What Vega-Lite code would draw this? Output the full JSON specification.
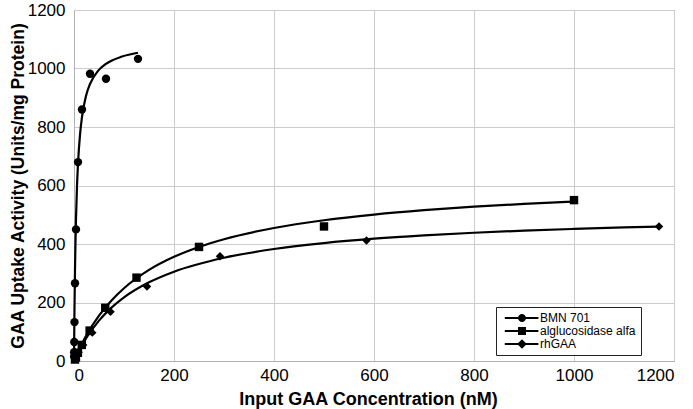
{
  "$schema": "https://vega.github.io/schema/vega-lite/v6.json",
  "width": 600,
  "height": 351,
  "autosize": "none",
  "padding": {"left": 74, "top": 10, "right": 19, "bottom": 48},
  "background": "white",
  "config": {
    "view": {"stroke": "#b0b0b0", "strokeWidth": 1},
    "font": "Liberation Sans",
    "axis": {
      "labelFont": "Liberation Sans",
      "labelFontSize": 17,
      "labelColor": "black",
      "titleFont": "Liberation Sans",
      "titleFontWeight": "bold",
      "titleColor": "black",
      "ticks": false,
      "tickSize": 0,
      "domainColor": "#b0b0b0",
      "gridColor": "#cccccc",
      "gridWidth": 1,
      "format": "d"
    }
  },
  "datasets": {
    "curves": [
      {"series": "BMN 701", "x": 0, "y": 0},
      {"series": "BMN 701", "x": 0.5, "y": 99.5},
      {"series": "BMN 701", "x": 1, "y": 182.5},
      {"series": "BMN 701", "x": 2, "y": 312.9},
      {"series": "BMN 701", "x": 3, "y": 410.6},
      {"series": "BMN 701", "x": 4, "y": 486.7},
      {"series": "BMN 701", "x": 6, "y": 597.3},
      {"series": "BMN 701", "x": 8, "y": 673.8},
      {"series": "BMN 701", "x": 12, "y": 772.9},
      {"series": "BMN 701", "x": 16, "y": 834.3},
      {"series": "BMN 701", "x": 24, "y": 906.2},
      {"series": "BMN 701", "x": 32, "y": 947},
      {"series": "BMN 701", "x": 48, "y": 991.7},
      {"series": "BMN 701", "x": 64, "y": 1015.7},
      {"series": "BMN 701", "x": 96, "y": 1040.8},
      {"series": "BMN 701", "x": 128, "y": 1053.8},
      {"series": "alglucosidase alfa", "x": 0, "y": 0},
      {"series": "alglucosidase alfa", "x": 10, "y": 38.6},
      {"series": "alglucosidase alfa", "x": 25, "y": 88.5},
      {"series": "alglucosidase alfa", "x": 50, "y": 155},
      {"series": "alglucosidase alfa", "x": 75, "y": 207},
      {"series": "alglucosidase alfa", "x": 100, "y": 248.7},
      {"series": "alglucosidase alfa", "x": 150, "y": 311.4},
      {"series": "alglucosidase alfa", "x": 200, "y": 356.3},
      {"series": "alglucosidase alfa", "x": 250, "y": 390},
      {"series": "alglucosidase alfa", "x": 300, "y": 416.4},
      {"series": "alglucosidase alfa", "x": 400, "y": 454.7},
      {"series": "alglucosidase alfa", "x": 500, "y": 481.2},
      {"series": "alglucosidase alfa", "x": 600, "y": 500.7},
      {"series": "alglucosidase alfa", "x": 700, "y": 515.7},
      {"series": "alglucosidase alfa", "x": 800, "y": 527.5},
      {"series": "alglucosidase alfa", "x": 900, "y": 537},
      {"series": "alglucosidase alfa", "x": 1000, "y": 545.1},
      {"series": "rhGAA", "x": 0, "y": 0},
      {"series": "rhGAA", "x": 10, "y": 35.1},
      {"series": "rhGAA", "x": 25, "y": 79.7},
      {"series": "rhGAA", "x": 50, "y": 137.9},
      {"series": "rhGAA", "x": 75, "y": 182.3},
      {"series": "rhGAA", "x": 100, "y": 217.4},
      {"series": "rhGAA", "x": 150, "y": 269},
      {"series": "rhGAA", "x": 200, "y": 305.4},
      {"series": "rhGAA", "x": 300, "y": 353},
      {"series": "rhGAA", "x": 400, "y": 382.8},
      {"series": "rhGAA", "x": 500, "y": 403.3},
      {"series": "rhGAA", "x": 600, "y": 418.2},
      {"series": "rhGAA", "x": 700, "y": 429.5},
      {"series": "rhGAA", "x": 800, "y": 438.5},
      {"series": "rhGAA", "x": 900, "y": 445.7},
      {"series": "rhGAA", "x": 1000, "y": 451.6},
      {"series": "rhGAA", "x": 1100, "y": 456.6},
      {"series": "rhGAA", "x": 1170, "y": 459.6}
    ],
    "points": [
      {"series": "BMN 701", "x": 0.125, "y": 15},
      {"series": "BMN 701", "x": 0.25, "y": 30},
      {"series": "BMN 701", "x": 0.5, "y": 65},
      {"series": "BMN 701", "x": 1, "y": 133},
      {"series": "BMN 701", "x": 2, "y": 266},
      {"series": "BMN 701", "x": 4, "y": 450},
      {"series": "BMN 701", "x": 8, "y": 680},
      {"series": "BMN 701", "x": 16, "y": 860},
      {"series": "BMN 701", "x": 32, "y": 982},
      {"series": "BMN 701", "x": 64, "y": 965},
      {"series": "BMN 701", "x": 128, "y": 1033},
      {"series": "alglucosidase alfa", "x": 1.95, "y": 5},
      {"series": "alglucosidase alfa", "x": 3.9, "y": 12},
      {"series": "alglucosidase alfa", "x": 7.8, "y": 28},
      {"series": "alglucosidase alfa", "x": 15.6, "y": 55},
      {"series": "alglucosidase alfa", "x": 31.25, "y": 104},
      {"series": "alglucosidase alfa", "x": 62.5, "y": 182},
      {"series": "alglucosidase alfa", "x": 125, "y": 285},
      {"series": "alglucosidase alfa", "x": 250, "y": 390},
      {"series": "alglucosidase alfa", "x": 500, "y": 460},
      {"series": "alglucosidase alfa", "x": 1000, "y": 550},
      {"series": "rhGAA", "x": 2.3, "y": 8},
      {"series": "rhGAA", "x": 4.6, "y": 15},
      {"series": "rhGAA", "x": 9.1, "y": 30},
      {"series": "rhGAA", "x": 18.3, "y": 55},
      {"series": "rhGAA", "x": 36.5, "y": 97},
      {"series": "rhGAA", "x": 73, "y": 168},
      {"series": "rhGAA", "x": 146, "y": 255},
      {"series": "rhGAA", "x": 292, "y": 358},
      {"series": "rhGAA", "x": 585, "y": 412},
      {"series": "rhGAA", "x": 1170, "y": 460}
    ]
  },
  "encoding": {
    "x": {
      "field": "x", "type": "quantitative",
      "scale": {"domain": [0, 1200], "nice": false, "zero": false},
      "axis": {"values": [0, 200, 400, 600, 800, 1000, 1200], "title": "Input GAA Concentration (nM)", "titleFontSize": 18, "labelPadding": 6, "titlePadding": 7, "titleX": 294, "grid": true}
    },
    "y": {
      "field": "y", "type": "quantitative",
      "scale": {"domain": [0, 1200], "nice": false, "zero": false},
      "axis": {"values": [0, 200, 400, 600, 800, 1000, 1200], "title": "GAA Uptake Activity (Units/mg Protein)", "titleFontSize": 17.5, "labelPadding": 9, "titlePadding": 0, "grid": true}
    }
  },
  "layer": [
    {
      "data": {"name": "curves"},
      "mark": {"type": "line", "interpolate": "monotone", "color": "black", "strokeWidth": 2.2},
      "encoding": {"detail": {"field": "series", "type": "nominal"}}
    },
    {
      "data": {"name": "points"},
      "mark": {"type": "point", "filled": true, "color": "black", "opacity": 1},
      "encoding": {
        "shape": {
          "field": "series", "type": "nominal",
          "scale": {"domain": ["BMN 701", "alglucosidase alfa", "rhGAA"], "range": ["circle", "square", "diamond"]},
          "legend": null
        },
        "size": {
          "field": "series", "type": "nominal",
          "scale": {"domain": ["BMN 701", "alglucosidase alfa", "rhGAA"], "range": [70, 72, 120]},
          "legend": null
        }
      }
    },
    {
      "data": {"name": "points"},
      "mark": {"type": "point", "filled": true, "color": "black", "opacity": 0, "size": 64},
      "encoding": {
        "shape": {
          "field": "series", "type": "nominal",
          "scale": {
            "domain": ["BMN 701", "alglucosidase alfa", "rhGAA"],
            "range": [
              "M-4.3,-0.25H4.1V0.25H-4.3Z M1,0A1,1 0 1,1 -1,0A1,1 0 1,1 1,0Z",
              "M-4.3,-0.25H4.1V0.25H-4.3Z M-1,-1H1V1H-1Z",
              "M-4.3,-0.25H4.1V0.25H-4.3Z M0,-1.2L1.2,0L0,1.2L-1.2,0Z"
            ]
          },
          "legend": {
            "title": null,
            "orient": "none",
            "legendX": 422,
            "legendY": 297,
            "padding": 5,
            "strokeColor": "#222222",
            "fillColor": "white",
            "symbolSize": 64,
            "symbolOpacity": 1,
            "symbolFillColor": "black",
            "symbolStrokeColor": "black",
            "symbolStrokeWidth": 0,
            "symbolOffset": 15,
            "labelOffset": 12,
            "labelFont": "Liberation Sans",
            "labelFontSize": 12,
            "labelColor": "black",
            "rowPadding": 1,
            "labelLimit": 300,
            "encode": {"legend": {"update": {"strokeWidth": {"value": 1.2}}}}
          }
        }
      }
    }
  ],
  "resolve": {"scale": {"shape": "independent", "size": "independent"}, "legend": {"shape": "independent"}}
}
